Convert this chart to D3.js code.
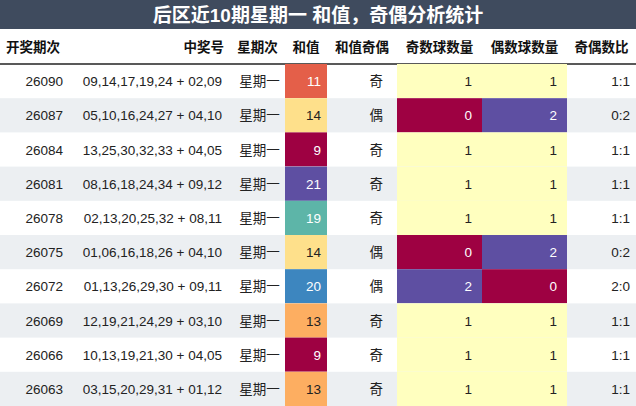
<!DOCTYPE html>
<html><head><meta charset="utf-8">
<script src="https://cdn.jsdelivr.net/npm/d3@7"></script>
<style>body{margin:0;background:#fff;} text{font-family:"Liberation Sans","Noto Sans CJK SC",sans-serif;}</style>
</head><body>
<script>
const title = "后区近10期星期一 和值，奇偶分析统计";
const headers = ["开奖期次", "中奖号", "星期次", "和值", "和值奇偶", "奇数球数量", "偶数球数量", "奇偶数比"];
const issues = ["26090","26087","26084","26081","26078","26075","26072","26069","26066","26063"];
const numbers = ["09,14,17,19,24 + 02,09","05,10,16,24,27 + 04,10","13,25,30,32,33 + 04,05","08,16,18,24,34 + 09,12","02,13,20,25,32 + 08,11","01,06,16,18,26 + 04,10","01,13,26,29,30 + 09,11","12,19,21,24,29 + 03,10","10,13,19,21,30 + 04,05","03,15,20,29,31 + 01,12"];
const sums = [11,14,9,21,19,14,20,13,9,13];
const oddCounts = [1,0,1,1,1,0,2,1,1,1];
const evenCounts = [1,2,1,1,1,2,0,1,1,1];

const W = 636, H = 406, titleH = 29, headH = 35;
const rowH = (H - titleH - headH) / issues.length;
const colEdges = [0, 68, 230, 285, 327, 397, 482, 567, 636];

const svg = d3.select("body").append("svg").attr("width", W).attr("height", H);
svg.append("rect").attr("width", W).attr("height", titleH).attr("fill", "#3f4b5e");
svg.append("text").attr("x", W / 2).attr("y", 22).attr("text-anchor", "middle")
  .attr("fill", "#fff").attr("font-size", 19).attr("font-weight", "bold").text(title);

const headAlign = ["start","end","middle","middle","middle","middle","middle","middle"];
headers.forEach((h, i) => {
  const a = headAlign[i];
  const x = a === "start" ? colEdges[i] + 6 : a === "end" ? colEdges[i + 1] - 6 : (colEdges[i] + colEdges[i + 1]) / 2;
  svg.append("text").attr("x", x).attr("y", titleH + 23).attr("text-anchor", a)
    .attr("font-size", 13.5).attr("font-weight", "bold").attr("fill", "#111").text(h);
});
svg.append("line").attr("x1", 0).attr("x2", W).attr("y1", titleH + headH).attr("y2", titleH + headH)
  .attr("stroke", "#222").attr("stroke-width", 1.5);

const y = d3.scaleBand().domain(d3.range(issues.length)).range([titleH + headH, H]);
const sumColor = d3.scaleSequential(t => d3.interpolateSpectral(1 - t)).domain([9, 21]);
const sumColors = {9:"#9e0142",11:"#e45f49",13:"#fdae61",14:"#fee08b",19:"#5db5a8",20:"#3d86bf",21:"#5e4fa2"};
const cntColors = {0:"#9e0142",1:"#ffffbf",2:"#5e4fa2"};
const light = c => d3.hsl(c).l > 0.6;

issues.forEach((iss, r) => {
  const y0 = y(r), cy = y0 + rowH / 2 + 5;
  if (r % 2 === 1) svg.append("rect").attr("x", 0).attr("y", y0).attr("width", W).attr("height", rowH).attr("fill", "#eceff2");
  const cell = (ci, fill) => svg.append("rect").attr("x", colEdges[ci]).attr("y", y0)
    .attr("width", colEdges[ci + 1] - colEdges[ci]).attr("height", rowH).attr("fill", fill);
  const txt = (x, a, s, fill) => svg.append("text").attr("x", x).attr("y", cy).attr("text-anchor", a)
    .attr("font-size", 13.5).attr("fill", fill || "#222").text(s);
  const sc = sumColors[sums[r]] || sumColor(sums[r]);
  cell(3, sc);
  const oc = cntColors[oddCounts[r]], ec = cntColors[evenCounts[r]];
  cell(5, oc); cell(6, ec);
  txt(colEdges[1] - 5, "end", iss);
  txt(colEdges[2] - 8, "end", numbers[r]);
  txt((colEdges[2] + colEdges[3]) / 2 + 2, "middle", "星期一");
  txt(colEdges[4] - 6, "end", sums[r], light(sc) ? "#222" : "#fff");
  txt(colEdges[5] - 14, "end", sums[r] % 2 ? "奇" : "偶");
  txt(colEdges[6] - 10, "end", oddCounts[r], light(oc) ? "#222" : "#fff");
  txt(colEdges[7] - 10, "end", evenCounts[r], light(ec) ? "#222" : "#fff");
  txt(colEdges[8] - 6, "end", oddCounts[r] + ":" + evenCounts[r]);
});
</script>
</body></html>
